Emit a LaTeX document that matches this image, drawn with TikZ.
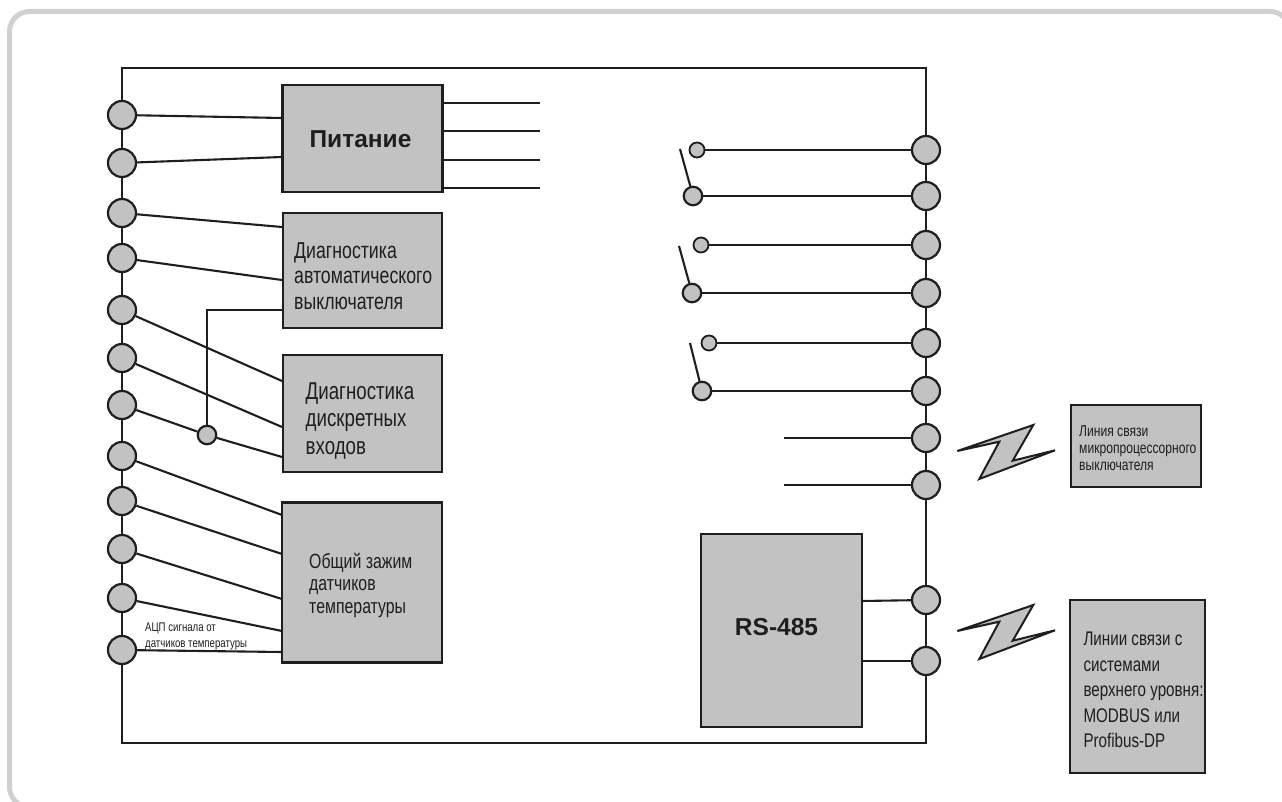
\documentclass[tikz,border=0pt]{standalone}
\usepackage{fontspec}
\usepackage{xcolor}
\setmainfont[FakeStretch=0.77]{Liberation Sans}
\newfontfamily\titlefont{Liberation Sans}
\usetikzlibrary{positioning}
\definecolor{pkgray}{HTML}{C2C2C2}
\definecolor{pkink}{HTML}{1E1E1E}
\definecolor{pkedge}{HTML}{D0D0D0}
\tikzset{
  blockBox/.style={draw=pkink, fill=pkgray, line width=2.4pt, inner sep=0pt},
  bigPin/.style={circle, draw=pkink, fill=pkgray, line width=2.2pt, minimum size=28pt, inner sep=0pt},
  midPin/.style={circle, draw=pkink, fill=pkgray, line width=2.2pt, minimum size=18.5pt, inner sep=0pt},
  smallPin/.style={circle, draw=pkink, fill=pkgray, line width=1.8pt, minimum size=15pt, inner sep=0pt},
  wireLine/.style={draw=pkink, line width=2.1pt},
  boltShape/.style={draw=pkink, fill=pkgray, line width=2pt, line join=miter, miter limit=12},
  blockLabel/.style={anchor=west, align=left, text=pkink, inner sep=0pt},
  blockTitle/.style={text=pkink, inner sep=0pt, font=\fontsize{24.5}{28}\titlefont\bfseries}
}
\begin{document}
\begin{tikzpicture}[x=1pt,y=-1pt]
  \useasboundingbox (0,0) rectangle (1282,802);
  \draw[pkedge, line width=5pt, rounded corners=20pt] (30,807) -- (9.5,807) -- (9.5,11.5) -- (1290,11.5) -- (1290,40);
  \draw[wireLine] (122,68) rectangle (926,743);

  % blocks
  \node[blockBox, minimum width=160pt, minimum height=107pt] (power) at (362.5,138.5) {};
  \node[blockBox, minimum width=159pt, minimum height=115pt] (breaker) at (362.5,270.5) {};
  \node[blockBox, minimum width=159pt, minimum height=117pt] (inputs) at (362.5,413.5) {};
  \node[blockBox, minimum width=160pt, minimum height=160pt] (sensors) at (362,582.5) {};
  \node[blockBox, minimum width=161pt, minimum height=193pt] (rsblock) at (781.5,630.5) {};
  \node[blockBox, minimum width=130pt, minimum height=82pt] (breakerlink) at (1136,446) {};
  \node[blockBox, minimum width=135pt, minimum height=173pt] (upperlink) at (1137.5,686.5) {};

  \node[blockTitle] (powertext) at (360.5,139) {Питание};
  \node[blockTitle] (rstext) at (776.5,627) {RS-485};
  \node[blockLabel, font=\fontsize{23}{25.5}\selectfont] (breakertext) at (294,276) {Диагностика\\автоматического\\выключателя};
  \node[blockLabel, font=\fontsize{24.3}{27.5}\selectfont] (inputstext) at (305.5,421) {Диагностика\\дискретных\\входов};
  \node[blockLabel, font=\fontsize{20.6}{22.5}\selectfont] (sensorstext) at (309,585) {Общий зажим\\датчиков\\температуры};
  \node[blockLabel, font=\fontsize{15.7}{17}\selectfont] (breakerlinktext) at (1079,448) {Линия связи\\микропроцессорного\\выключателя};
  \node[blockLabel, font=\fontsize{19.7}{25.5}\selectfont] (upperlinktext) at (1083.3,690) {Линии связи с\\системами\\верхнего уровня:\\MODBUS или\\Profibus-DP};
  \node[blockLabel, font=\fontsize{12.5}{16.5}\selectfont] (adctext) at (145,636.5) {АЦП сигнала от\\датчиков температуры};

  % left pins
  \foreach \n/\y in {1/115,2/163,3/213,4/258,5/310,6/358,7/405,8/456,9/501,10/549,11/598,12/650}
    \node[bigPin] (left\n) at (122,\y) {};
  % right pins
  \foreach \n/\y in {1/150,2/196,3/245,4/293,5/343,6/391,7/438,8/485,9/600,10/661}
    \node[bigPin] (right\n) at (926,\y) {};

  % where the wires reach the blocks
  \foreach \n/\y in {1/118,2/157,3/227,4/280}
    \coordinate (leftend\n) at (282,\y);
  \foreach \n/\y in {5/381,6/427,7/457,8/515,9/554,10/599,11/631,12/652}
    \coordinate (leftend\n) at (282,\y);
  \node[midPin] (tap) at (207,435) {};
  \foreach \n in {1,2,3,4,5,6,8,9,10,11,12}
    \draw[wireLine] (left\n) -- (leftend\n);
  \draw[wireLine] (left7) -- (tap);
  \draw[wireLine] (tap) -- (leftend7);
  \coordinate (tapend) at (283,310);
  \draw[wireLine] (tap) |- (tapend);

  % outputs of the power block
  \foreach \n/\y in {1/103,2/131,3/160,4/188}
  {
    \coordinate (powerout\n) at (443,\y);
    \coordinate (powerend\n) at (540,\y);
    \draw[wireLine] (powerout\n) -- (powerend\n);
  }

  % contacts
  \foreach \n/\r/\sx/\sy/\bx/\by/\lx/\ly in {1/1/697/150/693/196/680/149,2/3/701/245/692/293/679/246,3/5/709/343/702/391/690/343}
  {
    \pgfmathtruncatemacro{\rr}{\r+1}
    \node[smallPin] (open\n) at (\sx,\sy) {};
    \node[midPin] (hinge\n) at (\bx,\by) {};
    \coordinate (lever\n) at (\lx,\ly);
    \draw[wireLine] (open\n) -- (right\r);
    \draw[wireLine] (hinge\n) -- (right\rr);
    \draw[wireLine] (hinge\n) -- (lever\n);
  }

  % free wires and RS-485
  \coordinate (free7) at (784,438);
  \coordinate (free8) at (784,485);
  \draw[wireLine] (free7) -- (right7);
  \draw[wireLine] (free8) -- (right8);
  \coordinate (rsout9) at (862,601);
  \coordinate (rsout10) at (862,661);
  \draw[wireLine] (rsout9) -- (right9);
  \draw[wireLine] (rsout10) -- (right10);

  % radio bolts
  \foreach \dy in {0,180}
    \draw[boltShape, yshift=-\dy pt] (957.3,451) -- (1033.3,425) -- (1012.7,460.7) -- (1055,450.3) -- (979.3,479) -- (999.3,441.7) -- cycle;
\end{tikzpicture}
\end{document}
